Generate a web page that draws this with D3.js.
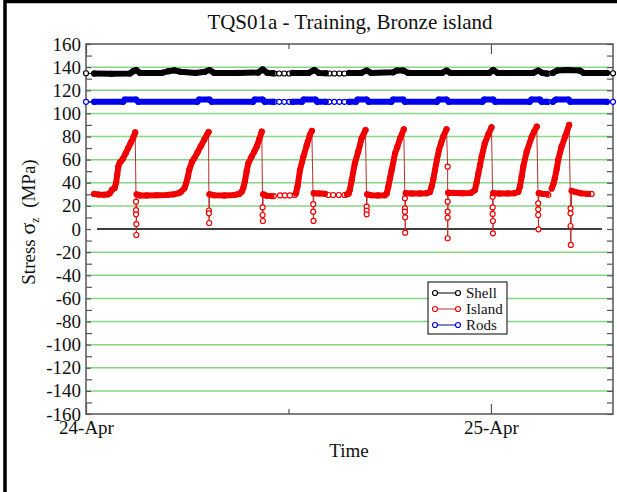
<!DOCTYPE html>
<html>
<head>
<meta charset="utf-8">
<script src="https://cdn.jsdelivr.net/npm/d3@7"></script>
<style>
  body { margin: 0; background: #fff; }
  text { font-family: "Liberation Serif", "Times New Roman", serif; fill: #111; }
</style>
</head>
<body>
<div id="container"></div>
<script>
/* DATA: hours after 24-Apr 00:00, stress in MPa.
   each run is a stretch of fast logging; one-point runs are lone readings */
const startTime = new Date(2009, 3, 24, 0, 0);
const endHour = 31.23;

const seriesNames = ["Shell", "Island", "Rods"];

const shellRuns = [
  [[0, 134.7]],
  [[0.49, 134.5], [1.5, 134.2], [2.6, 134.5], [2.8, 136.5], [2.96, 137.5], [3.2, 135], [4.5, 135], [4.9, 136.5], [5.23, 137.2], [5.6, 136], [6.5, 135], [7.05, 136], [7.31, 137.5], [7.6, 135], [9, 135], [10.2, 135.3], [10.47, 138], [10.75, 135], [11.06, 134.8]],
  [[11.16, 134.5]], [[11.45, 134.5]], [[11.75, 134.5]], [[12.05, 134.5]],
  [[12.25, 135], [13.2, 135], [13.53, 137.5], [13.8, 135], [14.22, 134.8]],
  [[14.42, 134.5]], [[14.71, 134.5]], [[15.01, 134.5]], [[15.31, 134.5]],
  [[15.6, 135], [16.3, 135], [16.63, 137], [16.9, 135], [18.2, 135.5], [18.41, 137], [18.8, 137], [19.1, 135], [21.1, 135], [21.37, 137], [21.6, 135], [23.9, 135], [24.14, 137.5], [24.4, 135], [26.5, 135], [26.8, 137], [27.05, 135], [27.3, 134.5]],
  [[27.39, 134.5]],
  [[27.67, 135], [27.91, 137], [28.5, 137.5], [29.27, 137], [29.5, 135], [30.86, 135]],
  [[31.23, 134.7]]
];

const rodsRuns = [
  [[0, 110]],
  [[0.49, 110], [2.2, 110], [2.3, 112], [2.96, 112], [3.1, 110], [6.6, 110], [6.7, 112], [7.31, 112], [7.45, 110], [9.9, 110], [10.0, 112], [10.47, 112], [10.6, 110], [11.06, 110]],
  [[11.16, 110]], [[11.45, 110]], [[11.75, 110]], [[12.05, 110]],
  [[12.25, 110], [12.8, 110], [12.9, 112], [13.6, 112], [13.7, 110], [14.22, 110]],
  [[14.42, 110]], [[14.71, 110]], [[15.01, 110]], [[15.31, 110]],
  [[15.6, 110], [16.0, 110], [16.1, 112], [16.63, 112], [16.75, 110], [18.1, 110], [18.2, 112], [18.8, 112], [18.9, 110], [20.8, 110], [20.9, 112], [21.37, 112], [21.5, 110], [23.5, 110], [23.6, 112], [24.14, 112], [24.25, 110], [26.3, 110], [26.4, 112], [26.9, 112], [27.0, 110], [27.3, 110]],
  [[27.39, 110]],
  [[27.67, 110], [27.85, 112], [28.6, 112], [28.7, 110], [30.86, 110]],
  [[31.23, 110]]
];

const islandRuns = [
  // cycle 1
  [[0.49, 30.3], [0.75, 29.8], [1.05, 29.6], [1.3, 30], [1.42, 31], [1.55, 34], [1.7, 35.5], [1.78, 40], [1.85, 47], [1.92, 54], [2.0, 57.5], [2.1, 59], [2.2, 61], [2.35, 65.5], [2.5, 70], [2.65, 74.5], [2.8, 79], [2.92, 83.5]],
  [[2.96, 23.6]], [[2.97, 16.4]], [[2.97, 12.7]], [[2.98, 4.3]], [[2.98, -5.2]],
  // cycle 2
  [[3.0, 30], [3.2, 29], [3.6, 29], [4.2, 29.2], [4.8, 29.4], [5.2, 30], [5.5, 31], [5.63, 32.3], [5.83, 35.2], [5.93, 39.5], [6.03, 45], [6.12, 51], [6.28, 58.2], [6.42, 61.1], [6.6, 66], [6.8, 71.5], [7.0, 77], [7.15, 81], [7.27, 83.9]],
  [[7.29, 16]], [[7.29, 13.6]], [[7.3, 5.2]],
  // cycle 3
  [[7.32, 30], [7.6, 29.2], [8.2, 29], [8.8, 29.4], [9.1, 30.5], [9.23, 32.3], [9.32, 35.2], [9.42, 41], [9.52, 49.6], [9.62, 56.8], [9.82, 62.5], [9.97, 66.8], [10.12, 71.2], [10.27, 77.5], [10.41, 84.2]],
  [[10.47, 18.7]], [[10.47, 12.1]], [[10.48, 6.9]],
  // cycle 4
  [[10.5, 30], [10.7, 28.8], [11.0, 28.5]],
  [[11.14, 28.5]], [[11.5, 29]], [[11.79, 29]], [[12.09, 29]], [[12.39, 29.5]],
  [[12.45, 31], [12.53, 36.6], [12.68, 51], [12.88, 62.5], [13.08, 72.6], [13.27, 81.3], [13.39, 84.8]],
  [[13.47, 21.5]], [[13.47, 15]], [[13.48, 7]],
  // cycle 5
  [[13.5, 31], [13.8, 30.8], [14.16, 30.5]],
  [[14.36, 29.4]], [[14.65, 29.4]], [[14.98, 29.4]], [[15.31, 29.4]],
  [[15.47, 30], [15.56, 30.5], [15.64, 33.7], [15.75, 42.4], [15.94, 56.8], [16.14, 66.9], [16.34, 78.4], [16.57, 85.6]],
  [[16.63, 19.3]], [[16.63, 15.9]], [[16.64, 12.7]],
  // cycle 6
  [[16.66, 30], [16.9, 29.2], [17.3, 29], [17.72, 29.2], [17.82, 30.5], [17.91, 36.6], [18.01, 44], [18.12, 51], [18.31, 65.5], [18.45, 71], [18.61, 78.4], [18.84, 86.2]],
  [[18.9, 26.5]], [[18.9, 17.9]], [[18.9, 15]], [[18.91, 10.1]], [[18.91, -3.2]],
  // cycle 7
  [[18.95, 31], [19.3, 30.8], [19.8, 30.8], [20.2, 31], [20.39, 32], [20.49, 36.6], [20.58, 43], [20.68, 51], [20.8, 60], [20.92, 68.3], [21.05, 74.5], [21.17, 79.8], [21.37, 86.2]],
  [[21.43, 53.9]], [[21.43, 23.6]], [[21.43, 15]], [[21.44, 9.8]], [[21.44, -8]],
  // cycle 8
  [[21.46, 31.4], [21.8, 31.2], [22.3, 31], [22.8, 31.2], [23.05, 33.7], [23.15, 40], [23.25, 48], [23.35, 55], [23.45, 62.5], [23.64, 74], [23.85, 82], [24.04, 88]],
  [[24.1, 27.9]], [[24.1, 18.7]], [[24.1, 13]], [[24.11, 6.9]], [[24.11, -3.7]],
  // cycle 9
  [[24.14, 31], [24.5, 30.8], [25.0, 30.8], [25.4, 31], [25.62, 32], [25.72, 36.6], [25.81, 45], [25.91, 53.9], [26.12, 66.9], [26.41, 79.8], [26.55, 84], [26.71, 88.5]],
  [[26.8, 22.2]], [[26.8, 17]], [[26.8, 12.1]], [[26.81, -0.3]],
  // cycle 10
  [[26.83, 31], [27.05, 30.5], [27.3, 30.2]],
  [[27.4, 29.6]],
  [[27.6, 35], [27.7, 39], [27.79, 43.8], [27.9, 52], [27.99, 59.7], [28.19, 71.2], [28.4, 80], [28.64, 90]],
  [[28.72, 17.9]], [[28.72, 13.6]], [[28.72, 2.6]], [[28.73, -13.8]],
  // tail
  [[28.78, 33], [29.0, 32], [29.3, 31], [29.76, 30.3]],
  [[29.97, 30.3]]
];

const yMajorTicks = [-160, -140, -120, -100, -80, -60, -40, -20, 0, 20, 40, 60, 80, 100, 120, 140, 160];
const yMinorTicks = [-150, -130, -110, -90, -70, -50, -30, -10, 10, 30, 50, 70, 90, 110, 130, 150];
const gridValues = [-140, -120, -100, -80, -60, -40, -20, 20, 40, 60, 80, 100, 120, 140];
const dayTickHours = [0, 24];
const noonTickHours = [12];

/* SETUP */
const width = 617, height = 492;
const plot = { left: 86, right: 613, top: 44, bottom: 414 };

const toDate = h => d3.timeMinute.offset(startTime, Math.round(h * 60));

const xScale = d3.scaleTime()
  .domain([startTime, toDate(endHour)])
  .range([plot.left, plot.right]);

const yScale = d3.scaleLinear()
  .domain([-160, 160])
  .range([plot.bottom, plot.top]);

const svg = d3.select("#container")
  .append("svg")
  .attr("width", width)
  .attr("height", height);

// outer frame (cut off at right and bottom)
svg.append("rect")
  .attr("x", 5).attr("y", 1.5)
  .attr("width", 700).attr("height", 600)
  .attr("fill", "none")
  .attr("stroke", "#000")
  .attr("stroke-width", 3.5);

// green grid lines
svg.append("g")
  .selectAll("line")
  .data(gridValues)
  .join("line")
  .attr("x1", plot.left).attr("x2", plot.right)
  .attr("y1", d => yScale(d)).attr("y2", d => yScale(d))
  .attr("stroke", "#86d686")
  .attr("stroke-width", 1.5);

// zero line
svg.append("line")
  .attr("x1", plot.left + 11).attr("x2", plot.right - 11)
  .attr("y1", yScale(0)).attr("y2", yScale(0))
  .attr("stroke", "#000")
  .attr("stroke-width", 1.3);

/* AXES */
const axisColor = "#555";
function styleAxis(g) {
  g.select(".domain").remove();
  g.selectAll(".tick line").attr("stroke", axisColor).attr("stroke-width", 1.2);
  g.selectAll(".tick text")
    .attr("fill", "#111")
    .style("font-family", '"Liberation Serif", serif')
    .style("font-size", "19px");
}

// plain hyphen for negatives, as in the original
svg.append("g")
  .attr("transform", `translate(${plot.left},0)`)
  .call(d3.axisLeft(yScale).tickValues(yMajorTicks).tickSize(-5).tickPadding(5).tickFormat(d => String(d)))
  .call(styleAxis);

svg.append("g")
  .attr("transform", `translate(${plot.left},0)`)
  .call(d3.axisLeft(yScale).tickValues(yMinorTicks).tickSize(-6).tickFormat(""))
  .call(styleAxis);

svg.append("g")
  .attr("transform", `translate(${plot.right},0)`)
  .call(d3.axisRight(yScale).tickValues(yMajorTicks.concat(yMinorTicks)).tickSize(-6).tickFormat(""))
  .call(styleAxis);

svg.append("g")
  .attr("transform", `translate(0,${plot.bottom})`)
  .call(d3.axisBottom(xScale).tickValues(dayTickHours.map(toDate)).tickSize(-10).tickPadding(7)
    .tickFormat(d3.timeFormat("%d-%b")))
  .call(styleAxis);

svg.append("g")
  .attr("transform", `translate(0,${plot.bottom})`)
  .call(d3.axisBottom(xScale).tickValues(noonTickHours.map(toDate)).tickSize(-5).tickFormat(""))
  .call(styleAxis);

svg.append("g")
  .attr("transform", `translate(0,${plot.top})`)
  .call(d3.axisTop(xScale).tickValues(dayTickHours.map(toDate)).tickSize(-10).tickFormat(""))
  .call(styleAxis);

svg.append("g")
  .attr("transform", `translate(0,${plot.top})`)
  .call(d3.axisTop(xScale).tickValues(noonTickHours.map(toDate)).tickSize(-5).tickFormat(""))
  .call(styleAxis);

// plot box
svg.append("rect")
  .attr("x", plot.left).attr("y", plot.top)
  .attr("width", plot.right - plot.left).attr("height", plot.bottom - plot.top)
  .attr("fill", "none")
  .attr("stroke", axisColor)
  .attr("stroke-width", 1.5);

/* SERIES */
const line = d3.line()
  .x(d => xScale(toDate(d[0])))
  .y(d => yScale(d[1]));

function drawSeries(runs, col) {
  const g = svg.append("g");
  const pts = runs.flat();
  g.append("path")
    .datum(pts)
    .attr("d", line)
    .attr("fill", "none")
    .attr("stroke", col.line)
    .attr("stroke-width", 1);
  g.selectAll("circle")
    .data(pts)
    .join("circle")
    .attr("cx", d => xScale(toDate(d[0])))
    .attr("cy", d => yScale(d[1]))
    .attr("r", 2.5)
    .attr("fill", "#fff")
    .attr("stroke", col.mark)
    .attr("stroke-width", 1.2);
  // fast-logged stretches: markers overlap into a solid band
  runs.filter(r => r.length > 1).forEach(r => {
    g.append("path")
      .datum(r)
      .attr("d", line)
      .attr("fill", "none")
      .attr("stroke", col.mark)
      .attr("stroke-width", 6)
      .attr("stroke-linejoin", "round")
      .attr("stroke-linecap", "round");
  });
}

const colors = {
  Shell: { line: "#000", mark: "#000" },
  Island: { line: "#b83030", mark: "#f00000" },
  Rods: { line: "#000080", mark: "#0000f0" }
};

drawSeries(shellRuns, colors.Shell);
drawSeries(rodsRuns, colors.Rods);
drawSeries(islandRuns, colors.Island);

/* TEXT */
svg.append("text")
  .attr("x", 350).attr("y", 29)
  .attr("text-anchor", "middle")
  .style("font-size", "21px")
  .text("TQS01a - Training, Bronze island");

svg.append("text")
  .attr("x", 349).attr("y", 457)
  .attr("text-anchor", "middle")
  .style("font-size", "19px")
  .text("Time");

const yTitle = svg.append("text")
  .attr("transform", "translate(35,222) rotate(-90)")
  .attr("text-anchor", "middle")
  .style("font-size", "19px");
yTitle.append("tspan").text("Stress ");
yTitle.append("tspan").style("font-size", "22px").text("σ");
yTitle.append("tspan").attr("dy", 4).style("font-size", "12px").text("z");
yTitle.append("tspan").attr("dy", -4).text("\u00a0\u00a0(MPa)");

/* LEGEND */
const legend = svg.append("g").attr("transform", "translate(428,282)");
legend.append("rect")
  .attr("width", 79).attr("height", 52)
  .attr("fill", "#fff")
  .attr("stroke", "#000")
  .attr("stroke-width", 1);

seriesNames.forEach((name, i) => {
  const row = legend.append("g").attr("transform", `translate(0,${11 + i * 16})`);
  row.append("line")
    .attr("x1", 7).attr("x2", 30)
    .attr("stroke", colors[name].line)
    .attr("stroke-width", 1);
  row.selectAll("circle")
    .data([7, 30])
    .join("circle")
    .attr("cx", d => d).attr("cy", 0)
    .attr("r", 2.5)
    .attr("fill", "#fff")
    .attr("stroke", colors[name].mark)
    .attr("stroke-width", 1.2);
  row.append("text")
    .attr("x", 38).attr("y", 5)
    .style("font-size", "15px")
    .text(name);
});
</script>
</body>
</html>
